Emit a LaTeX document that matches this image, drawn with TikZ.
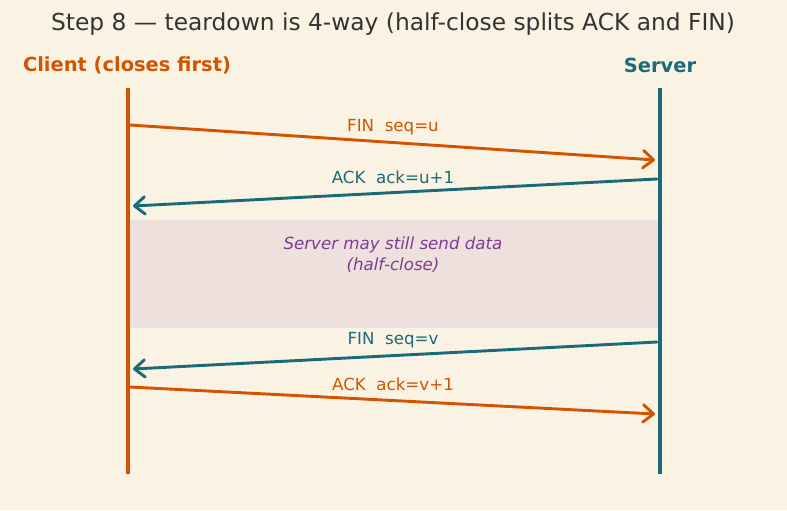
\documentclass[tikz,border=0pt]{standalone}
\usepackage{fontspec}
\setmainfont{DejaVu Sans}
\usepackage{tikz}
\usetikzlibrary{arrows.meta, positioning}
\definecolor{paper}{HTML}{FAF3E3}
\definecolor{clientc}{HTML}{D35400}
\definecolor{serverc}{HTML}{1B6A7A}
\definecolor{notec}{HTML}{7D3C98}
\definecolor{notebg}{HTML}{EEE0DC}
\definecolor{titlec}{HTML}{333333}
\tikzset{>={Straight Barb[length=7.5pt,width=12.5pt,round]}}
\tikzset{lifeline/.style={line width=2.3pt},
  msg/.style={->, line width=2.1pt, line cap=round},
  msglabel/.style={font=\fontsize{12}{14}\selectfont, inner sep=0pt},
  actor/.style={font=\fontsize{14}{17}\selectfont\bfseries, inner sep=0pt}}

\begin{document}
\begin{tikzpicture}[x=0.72pt, y=-0.72pt]
  \fill[paper] (0,0) rectangle (787,510);
  \useasboundingbox (0,0) rectangle (787,510);
  \node[titlec, font=\fontsize{16.8}{20}\selectfont, inner sep=0pt] (title) at (393,24) {Step 8 — teardown is 4-way (half-close splits ACK and FIN)};
  \node[actor, clientc] (client) at (127,65) {Client (closes first)};
  \node[actor, serverc] (server) at (660,65) {Server};
  % half-close window
  \fill[notebg] (130,220) rectangle (658,328);
  \node[notec, inner sep=0pt, font=\fontsize{12}{15.1}\selectfont\itshape, align=center] (note) at (393,255) {Server may still send data\\(half-close)};
  % lifelines
  \coordinate (ctop) at (128,88);  \coordinate (cbot) at (128,474);
  \coordinate (stop) at (660,88);  \coordinate (sbot) at (660,474);
  \draw[lifeline, clientc] (ctop) -- (cbot);
  \draw[lifeline, serverc] (stop) -- (sbot);
  % message end points
  \coordinate (c1) at (130,125);  \coordinate (s1) at (655,160);
  \coordinate (s2) at (657,179);  \coordinate (c2) at (133,206);
  \coordinate (s3) at (657,342);  \coordinate (c3) at (133,369);
  \coordinate (c4) at (130,387);  \coordinate (s4) at (655,414);
  \draw[msg, clientc] (c1) -- (s1);
  \draw[msg, serverc] (s2) -- (c2);
  \draw[msg, serverc] (s3) -- (c3);
  \draw[msg, clientc] (c4) -- (s4);
  \node[msglabel, clientc] (fin1) at (393,127) {FIN\ \ seq=u};
  \node[msglabel, serverc] (ack1) at (393,177) {ACK\ \ ack=u+1};
  \node[msglabel, serverc] (fin2) at (393,340) {FIN\ \ seq=v};
  \node[msglabel, clientc] (ack2) at (393,384) {ACK\ \ ack=v+1};
\end{tikzpicture}
\end{document}
